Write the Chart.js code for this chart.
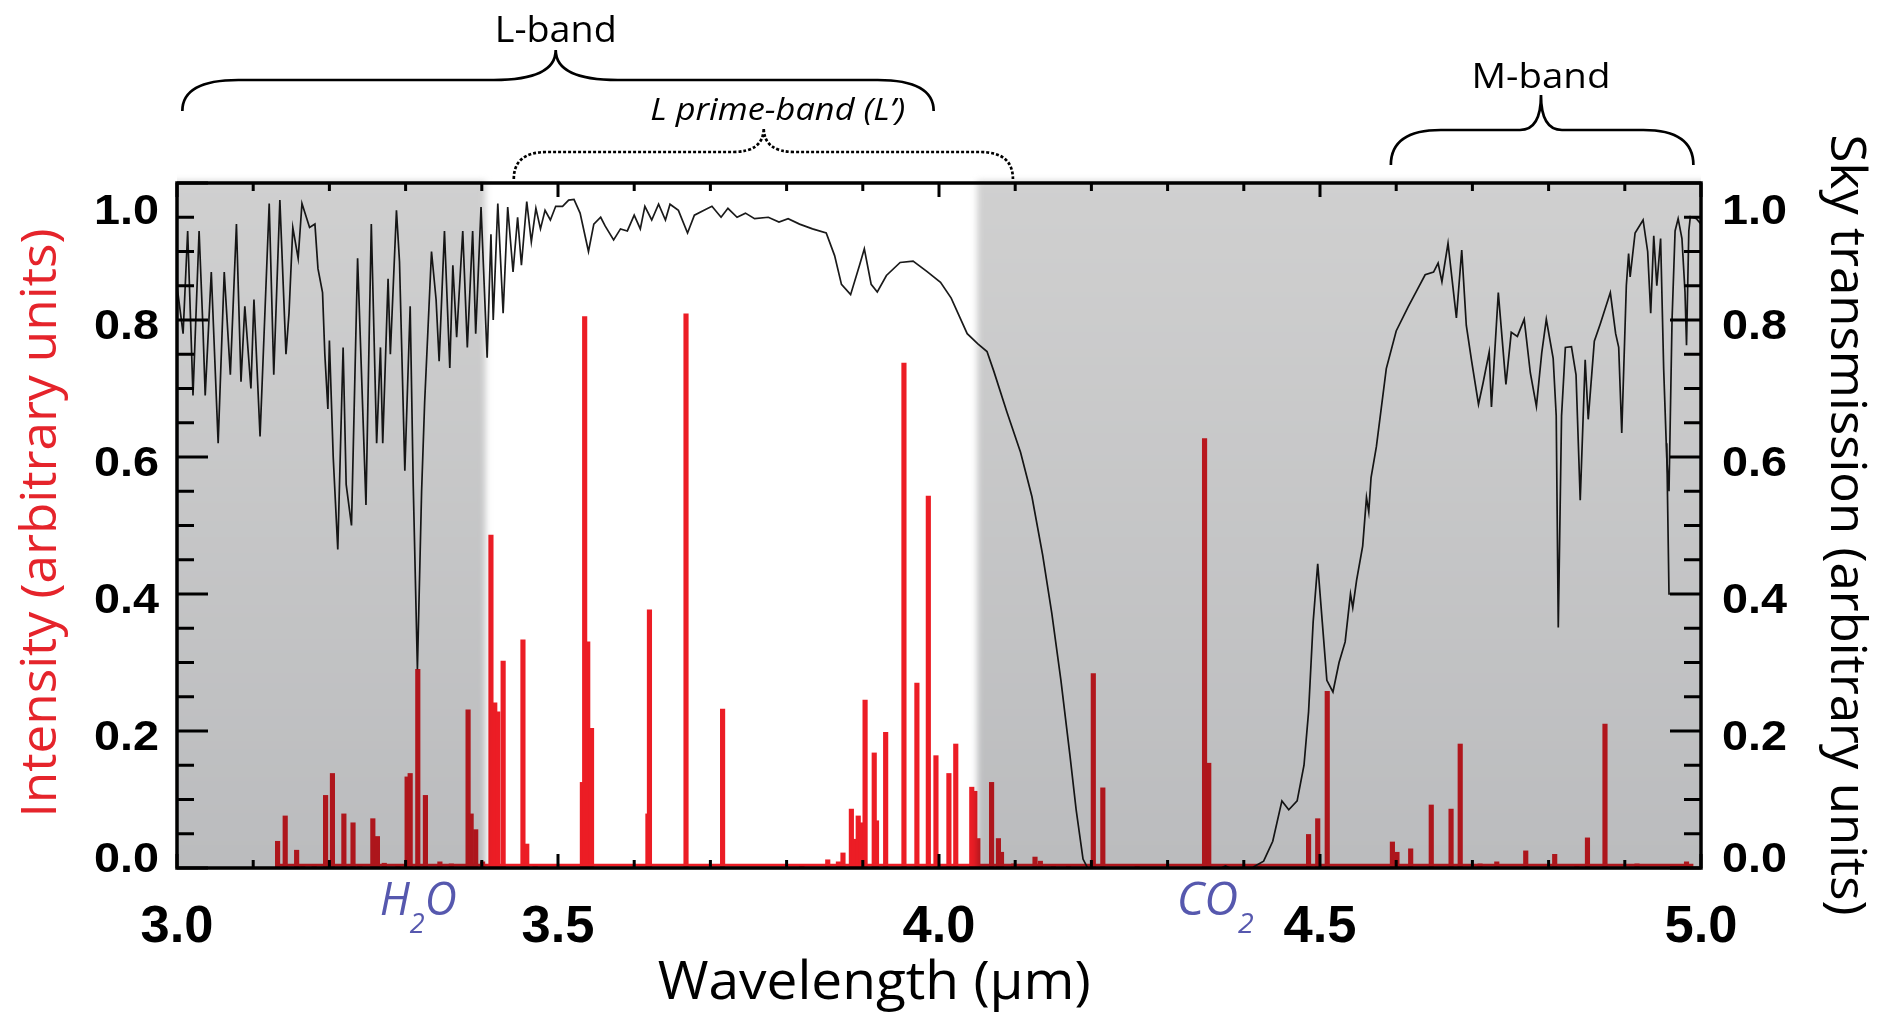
<!DOCTYPE html>
<html>
<head>
<meta charset="utf-8">
<title>Sky transmission and emission lines, 3-5 µm</title>
<script src="https://cdn.jsdelivr.net/npm/chart.js@4.4.1/dist/chart.umd.min.js"></script>
<style>
  html, body { margin: 0; padding: 0; background: #fff; }
  #wrap { width: 1885px; height: 1016px; }
</style>
</head>
<body>
<div id="wrap"><canvas id="spectrum" width="1885" height="1016"></canvas></div>
<script>
"use strict";

// sky transmission (black trace, right axis)
const skyWavelength = [
    3.000, 3.008, 3.014, 3.021, 3.029, 3.034, 3.037, 3.045, 3.054, 3.062,
    3.070, 3.078, 3.084, 3.089, 3.097, 3.101, 3.109, 3.121, 3.127, 3.135,
    3.143, 3.147, 3.152, 3.159, 3.164, 3.174, 3.181, 3.185, 3.191, 3.194,
    3.198, 3.200, 3.205, 3.211, 3.218, 3.222, 3.229, 3.237, 3.248, 3.255,
    3.262, 3.267, 3.270, 3.277, 3.280, 3.288, 3.292, 3.299, 3.306, 3.310,
    3.3155, 3.321, 3.325, 3.334, 3.340, 3.344, 3.351, 3.358, 3.362, 3.367,
    3.375, 3.381, 3.388, 3.392, 3.399, 3.407, 3.412, 3.415, 3.421, 3.428,
    3.434, 3.441, 3.447, 3.452, 3.459, 3.465, 3.471, 3.477, 3.483, 3.490,
    3.497, 3.506, 3.514, 3.521, 3.529, 3.540, 3.547, 3.556, 3.562, 3.573,
    3.582, 3.591, 3.600, 3.608, 3.614, 3.623, 3.632, 3.641, 3.647, 3.658,
    3.670, 3.679, 3.691, 3.702, 3.714, 3.723, 3.735, 3.746, 3.758, 3.776,
    3.790, 3.802, 3.817, 3.834, 3.852, 3.863, 3.872, 3.884, 3.896, 3.902,
    3.911, 3.919, 3.931, 3.949, 3.966, 3.984, 4.002, 4.016, 4.037, 4.051,
    4.063, 4.072, 4.089, 4.107, 4.122, 4.136, 4.148, 4.160, 4.172, 4.180,
    4.189, 4.195, 4.370, 4.376, 4.382, 4.412, 4.426, 4.438, 4.450, 4.459,
    4.470, 4.479, 4.485, 4.491, 4.497, 4.503, 4.509, 4.517, 4.525, 4.533,
    4.540, 4.543, 4.548, 4.556, 4.561, 4.564, 4.567, 4.574, 4.587, 4.600,
    4.616, 4.627, 4.638, 4.649, 4.655, 4.660, 4.668, 4.679, 4.686, 4.692,
    4.699, 4.708, 4.714, 4.722, 4.725, 4.734, 4.744, 4.751, 4.759, 4.768,
    4.776, 4.784, 4.791, 4.797, 4.806, 4.810, 4.8127, 4.817, 4.822, 4.830,
    4.836, 4.8415, 4.848, 4.852, 4.860, 4.868, 4.881, 4.888, 4.892, 4.896,
    4.902, 4.905, 4.907, 4.9135, 4.924, 4.930, 4.934, 4.938, 4.942, 4.947,
    4.951, 4.955, 4.958, 4.962, 4.966, 4.970, 4.975, 4.979, 4.981, 4.984,
    4.986, 4.994, 5.000
];
const skyTransmission = [
    0.85, 0.78, 0.93, 0.69, 0.93, 0.79, 0.69, 0.87, 0.62, 0.87,
    0.72, 0.94, 0.71, 0.82, 0.70, 0.83, 0.63, 0.97, 0.72, 0.975,
    0.75, 0.81, 0.935, 0.89, 0.97, 0.935, 0.94, 0.875, 0.84, 0.75,
    0.67, 0.77, 0.60, 0.465, 0.76, 0.56, 0.50, 0.89, 0.53, 0.94,
    0.62, 0.76, 0.62, 0.86, 0.75, 0.96, 0.885, 0.58, 0.82, 0.56,
    0.29, 0.55, 0.68, 0.90, 0.83, 0.74, 0.93, 0.73, 0.88, 0.775,
    0.93, 0.76, 0.93, 0.78, 0.965, 0.745, 0.925, 0.80, 0.97, 0.81,
    0.965, 0.87, 0.95, 0.88, 0.973, 0.914, 0.963, 0.933, 0.96, 0.946,
    0.966, 0.966, 0.975, 0.976, 0.956, 0.90, 0.94, 0.95, 0.937, 0.917,
    0.933, 0.930, 0.953, 0.933, 0.966, 0.946, 0.969, 0.946, 0.969, 0.960,
    0.927, 0.953, 0.960, 0.966, 0.950, 0.963, 0.950, 0.956, 0.948, 0.950,
    0.943, 0.948, 0.940, 0.933, 0.927, 0.894, 0.852, 0.837, 0.881, 0.904,
    0.852, 0.841, 0.865, 0.884, 0.886, 0.871, 0.855, 0.832, 0.780, 0.765,
    0.754, 0.725, 0.666, 0.607, 0.542, 0.457, 0.372, 0.274, 0.163, 0.085,
    0.013, 0.000, 0.000, 0.003, 0.000, 0.001, 0.010, 0.039, 0.098, 0.085,
    0.098, 0.150, 0.228, 0.359, 0.444, 0.359, 0.274, 0.257, 0.300, 0.330,
    0.400, 0.380, 0.420, 0.470, 0.541, 0.520, 0.570, 0.615, 0.729, 0.784,
    0.820, 0.843, 0.866, 0.870, 0.883, 0.856, 0.912, 0.803, 0.902, 0.792,
    0.740, 0.677, 0.708, 0.753, 0.673, 0.840, 0.706, 0.782, 0.776, 0.801,
    0.723, 0.674, 0.752, 0.801, 0.744, 0.660, 0.351, 0.660, 0.760, 0.761,
    0.720, 0.537, 0.742, 0.655, 0.769, 0.795, 0.840, 0.780, 0.760, 0.635,
    0.850, 0.897, 0.863, 0.927, 0.946, 0.900, 0.810, 0.923, 0.850, 0.919,
    0.729, 0.600, 0.550, 0.800, 0.930, 0.948, 0.919, 0.841, 0.763, 0.930,
    0.951, 0.948, 0.940
];
// the trace falls onto the right axis at the very end
const skyTailWavelength = [4.955, 4.958, 5.000];
const skyTailTransmission = [0.62, 0.40, 0.40];

// emission lines (red bars, left axis)
const lineWavelength = [
    3.132, 3.142, 3.157, 3.165, 3.180, 3.195, 3.204, 3.219, 3.231, 3.240,
    3.257, 3.263, 3.272, 3.290, 3.302, 3.306, 3.316, 3.326, 3.345, 3.360,
    3.382, 3.386, 3.392, 3.401, 3.412, 3.417, 3.421, 3.428, 3.454, 3.459,
    3.470, 3.532, 3.535, 3.539, 3.544, 3.618, 3.620, 3.668, 3.716, 3.820,
    3.854, 3.868, 3.874, 3.885, 3.889, 3.894, 3.898, 3.903, 3.915, 3.918,
    3.930, 3.954, 3.971, 3.986, 3.996, 4.013, 4.022, 4.043, 4.047, 4.051,
    4.069, 4.078, 4.082, 4.098, 4.126, 4.133, 4.150, 4.170, 4.2025, 4.215,
    4.260, 4.3485, 4.354, 4.420, 4.485, 4.497, 4.5095, 4.595, 4.601, 4.619,
    4.646, 4.672, 4.684, 4.710, 4.732, 4.770, 4.808, 4.837, 4.851, 4.874,
    4.916, 4.981
];
const lineIntensity = [
    0.039, 0.076, 0.026, 0.004, 0.004, 0.106, 0.138, 0.079, 0.066, 0.005,
    0.072, 0.046, 0.007, 0.004, 0.133, 0.138, 0.290, 0.106, 0.009, 0.006,
    0.231, 0.079, 0.056, 0.009, 0.486, 0.241, 0.228, 0.302, 0.333, 0.035,
    0.003, 0.125, 0.805, 0.330, 0.204, 0.079, 0.377, 0.809, 0.232, 0.004,
    0.012, 0.009, 0.022, 0.086, 0.042, 0.076, 0.066, 0.245, 0.168, 0.069,
    0.198, 0.737, 0.270, 0.543, 0.164, 0.138, 0.181, 0.118, 0.112, 0.043,
    0.125, 0.043, 0.023, 0.006, 0.016, 0.010, 0.005, 0.003, 0.284, 0.117,
    0.003, 0.627, 0.153, 0.003, 0.049, 0.072, 0.258, 0.038, 0.023, 0.028,
    0.092, 0.086, 0.181, 0.006, 0.009, 0.025, 0.020, 0.003, 0.044, 0.210,
    0.006, 0.009
];
// faint continuum under the lines
const floorWavelength = [3.13, 4.99];
const floorIntensity = [0.004, 0.004];

const xTicks = [3.0, 3.5, 4.0, 4.5, 5.0];
const yTicks = [0.0, 0.2, 0.4, 0.6, 0.8, 1.0];

// outside the L' window the sky is shaded
const shadedFrom = [3.0, 4.05];
const shadedTo = [3.405, 5.0];

const bandNames = ["L-band", "L prime-band (L\u2019)", "M-band"];
const bandStart = [3.007, 3.442, 4.593];
const bandEnd = [3.993, 4.097, 4.990];
const bandCentre = [3.497, 3.770, 4.790];

const toPoints = function (xs, ys) {
    return xs.map(function (x, i) {
        return {x: x, y: ys[i]};
    });
};

const HUMAN = '"Open Sans", "Noto Sans", sans-serif';
const NUM = '"Liberation Sans", Arial, sans-serif';

// draw text squeezed/stretched to a measured width
function fitText(ctx, text, font, width, align) {
    ctx.font = font;
    const k = width / ctx.measureText(text).width;
    ctx.scale(k, 1);
    ctx.textAlign = align || "center";
    ctx.fillText(text, 0, 0);
}

function brace(ctx, x1, x2, xTip, yEnd, yBar, yTip, r, rTip) {
    ctx.beginPath();
    ctx.moveTo(x1, yEnd);
    ctx.quadraticCurveTo(x1, yBar, x1 + r, yBar);
    ctx.lineTo(xTip - rTip, yBar);
    ctx.quadraticCurveTo(xTip, yBar, xTip, yTip);
    ctx.quadraticCurveTo(xTip, yBar, xTip + rTip, yBar);
    ctx.lineTo(x2 - r, yBar);
    ctx.quadraticCurveTo(x2, yBar, x2, yEnd);
    ctx.stroke();
}

function chem(ctx, parts, left, baseline, width) {
    // parts: [text, isSubscript]
    const big = "italic 46px " + HUMAN;
    const small = "italic 28px " + HUMAN;
    let natural = 0;
    parts.forEach(function (p) {
        ctx.font = p[1] ? small : big;
        natural += ctx.measureText(p[0]).width;
    });
    const k = width / natural;
    ctx.save();
    ctx.translate(left, baseline);
    ctx.scale(k, 1);
    ctx.textAlign = "left";
    let x = 0;
    parts.forEach(function (p) {
        ctx.font = p[1] ? small : big;
        ctx.fillText(p[0], x, p[1] ? 18 : 0);
        x += ctx.measureText(p[0]).width;
    });
    ctx.restore();
}

const frame = {
    id: "frame",
    afterDatasetsDraw: function (chart) {
        const ctx = chart.ctx;
        const a = chart.chartArea;
        const x = chart.scales.x;
        const y = chart.scales.y;

        // grey sky outside the window, multiplied over the data
        ctx.save();
        ctx.beginPath();
        ctx.rect(a.left, a.top - 10, a.right - a.left, a.bottom - a.top + 10);
        ctx.clip();
        ctx.globalCompositeOperation = "multiply";
        ctx.filter = "blur(3px)";
        const g = ctx.createLinearGradient(0, a.top, 0, a.bottom);
        g.addColorStop(0, "#d0d0d0");
        g.addColorStop(1, "#bbbcbe");
        ctx.fillStyle = g;
        shadedFrom.forEach(function (from, i) {
            let x1 = x.getPixelForValue(from);
            let x2 = x.getPixelForValue(shadedTo[i]);
            if (from <= x.min) x1 -= 20;
            if (shadedTo[i] >= x.max) x2 += 20;
            ctx.fillRect(x1, a.top - 2, x2 - x1, a.bottom - a.top + 30);
        });
        ctx.restore();

        // box and inward ticks
        ctx.save();
        ctx.strokeStyle = "#000";
        ctx.lineWidth = 3.5;
        ctx.strokeRect(a.left, a.top, a.right - a.left, a.bottom - a.top);
        ctx.lineWidth = 3;
        ctx.beginPath();
        for (let i = 0; i <= 20; i++) {
            const v = x.min + i * 0.1;
            const px = x.getPixelForValue(v);
            const len = i % 5 === 0 ? 14 : 8;
            ctx.moveTo(px, a.bottom);
            ctx.lineTo(px, a.bottom - len);
            ctx.moveTo(px, a.top);
            ctx.lineTo(px, a.top + len);
        }
        for (let j = 0; j <= 20; j++) {
            const py = y.getPixelForValue(j * 0.05);
            const len = j % 4 === 0 ? 31 : 17;
            ctx.moveTo(a.left, py);
            ctx.lineTo(a.left + len, py);
            ctx.moveTo(a.right, py);
            ctx.lineTo(a.right - len, py);
        }
        ctx.stroke();
        ctx.restore();
    },
    afterDraw: function (chart) {
        const ctx = chart.ctx;
        const a = chart.chartArea;
        const x = chart.scales.x;
        const y = chart.scales.y;
        const y2 = chart.scales.y2;
        ctx.save();
        ctx.fillStyle = "#000";
        ctx.textBaseline = "alphabetic";

        // wavelength tick labels
        xTicks.forEach(function (v) {
            ctx.save();
            ctx.translate(x.getPixelForValue(v), 942);
            fitText(ctx, v.toFixed(1), "bold 51px " + NUM, 73);
            ctx.restore();
        });

        // both vertical axes; end labels sit inside the box
        yTicks.forEach(function (v) {
            let py = y.getPixelForValue(v) + 19;
            if (v === 1) py += 22;
            if (v === 0) py -= 15;
            ctx.save();
            ctx.translate(a.left - 18, py);
            fitText(ctx, v.toFixed(1), "bold 42px " + NUM, 65, "right");
            ctx.restore();
            ctx.save();
            ctx.translate(y2.right + 21, py);
            fitText(ctx, v.toFixed(1), "bold 42px " + NUM, 65, "left");
            ctx.restore();
        });

        // axis titles
        ctx.save();
        ctx.translate(x.getPixelForValue(3.915), 999);
        fitText(ctx, "Wavelength (\u00b5m)", "53px " + HUMAN, 433);
        ctx.restore();

        ctx.save();
        ctx.fillStyle = "#e5242b";
        ctx.translate(56, 523);
        ctx.rotate(-Math.PI / 2);
        fitText(ctx, "Intensity (arbitrary units)", "49px " + HUMAN, 589);
        ctx.restore();

        ctx.save();
        ctx.translate(1831, 525);
        ctx.rotate(Math.PI / 2);
        fitText(ctx, "Sky transmission (arbitrary units)", "49px " + HUMAN, 781);
        ctx.restore();

        // molecule labels under the axis
        ctx.fillStyle = "#5658ae";
        chem(ctx, [["H", false], ["2", true], ["O", false]], x.getPixelForValue(3.266), 915, 77);
        chem(ctx, [["CO", false], ["2", true]], x.getPixelForValue(4.312), 915, 77);

        // photometric bands above the plot
        ctx.fillStyle = "#000";
        ctx.strokeStyle = "#000";
        ctx.lineWidth = 2.7;
        const px = function (v) {
            return x.getPixelForValue(v);
        };
        brace(ctx, px(bandStart[0]), px(bandEnd[0]), px(bandCentre[0]), 111, 80, 50, 56, 62);
        ctx.setLineDash([3, 2]);
        brace(ctx, px(bandStart[1]), px(bandEnd[1]), px(bandCentre[1]), 179, 152, 128, 33, 31);
        ctx.setLineDash([]);
        brace(ctx, px(bandStart[2]), px(bandEnd[2]), px(bandCentre[2]), 165, 130, 95, 50, 21);

        ctx.save();
        ctx.translate(px(bandCentre[0]), 42);
        fitText(ctx, bandNames[0], "37px " + HUMAN, 122);
        ctx.restore();
        ctx.save();
        ctx.translate(px(bandCentre[1]) + 14, 120);
        fitText(ctx, bandNames[1], "italic 31px " + HUMAN, 255);
        ctx.restore();
        ctx.save();
        ctx.translate(px(bandCentre[2]), 88);
        fitText(ctx, bandNames[2], "35px " + HUMAN, 139);
        ctx.restore();

        ctx.restore();
    },
};

new Chart(document.getElementById("spectrum"), {
    type: "line",
    data: {
        datasets: [
            {
                label: "Sky transmission",
                type: "line",
                yAxisID: "y2",
                data: toPoints(skyWavelength, skyTransmission),
                borderColor: "#1a1a1a",
                borderWidth: 1.7,
                pointRadius: 0,
                tension: 0,
                order: 1,
            },
            {
                label: "Sky transmission (edge)",
                type: "line",
                yAxisID: "y2",
                data: toPoints(skyTailWavelength, skyTailTransmission),
                borderColor: "#1a1a1a",
                borderWidth: 1.7,
                pointRadius: 0,
                tension: 0,
                order: 1,
            },
            {
                label: "Continuum",
                type: "line",
                yAxisID: "y",
                data: toPoints(floorWavelength, floorIntensity),
                borderColor: "#ec1d25",
                borderWidth: 3,
                pointRadius: 0,
                order: 3,
            },
            {
                label: "Emission lines",
                type: "bar",
                yAxisID: "y",
                data: toPoints(lineWavelength, lineIntensity),
                backgroundColor: "#ec1d25",
                borderWidth: 0,
                barThickness: 4.5,
                order: 2,
            },
        ],
    },
    options: {
        responsive: false,
        animation: false,
        devicePixelRatio: 1,
        layout: {
            padding: {left: 177, right: 184, top: 183, bottom: 148},
        },
        plugins: {
            legend: {display: false},
            tooltip: {enabled: false},
        },
        scales: {
            x: {type: "linear", min: 3, max: 5, offset: false, display: false, grid: {offset: false}},
            y: {min: 0, max: 1, display: false},
            y2: {min: 0, max: 1, position: "right", display: false},
        },
    },
    plugins: [frame],
});
</script>
</body>
</html>
